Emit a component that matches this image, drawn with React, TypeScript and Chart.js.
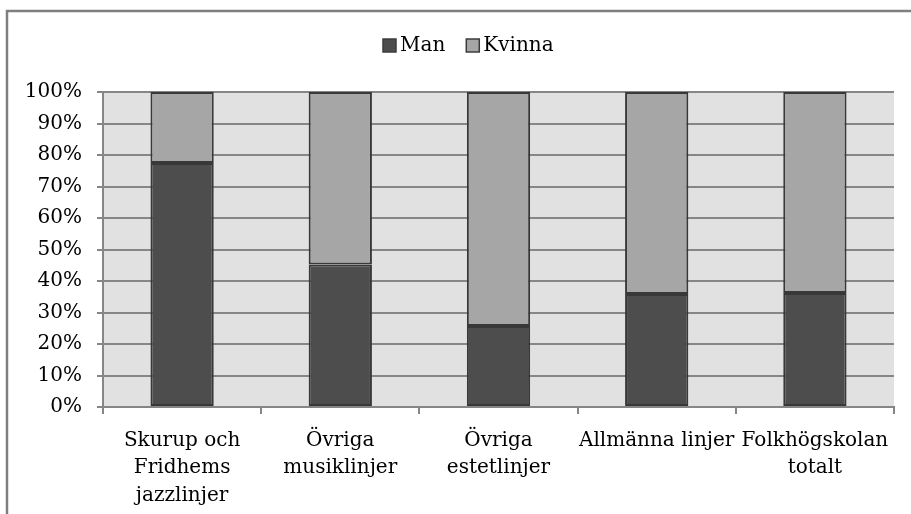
import React, { useEffect, useRef } from "react";
import { Chart, registerables } from "chart.js";

Chart.register(...registerables);

const categories: (string | string[])[] = [
  ["Skurup och", "Fridhems", "jazzlinjer"],
  ["Övriga", "musiklinjer"],
  ["Övriga", "estetlinjer"],
  "Allmänna linjer",
  ["Folkhögskolan", "totalt"],
];
const manValues = [77.5, 45.2, 25.7, 35.9, 36.2];
const kvinnaValues = [22.5, 54.8, 74.3, 64.1, 63.8];
const yTickValues = [0, 10, 20, 30, 40, 50, 60, 70, 80, 90, 100];

const FONT = "'DejaVu Serif', serif";

const framePlugin = {
  id: "frame",
  beforeDraw(chart: any) {
    const { ctx, chartArea } = chart;
    ctx.save();
    ctx.fillStyle = "#ffffff";
    ctx.fillRect(0, 0, chart.width, chart.height);
    ctx.strokeStyle = "#7f7f7f";
    ctx.lineWidth = 2.5;
    ctx.beginPath();
    ctx.moveTo(7, chart.height + 5);
    ctx.lineTo(7, 11);
    ctx.lineTo(chart.width + 5, 11);
    ctx.stroke();
    ctx.fillStyle = "#e1e1e1";
    ctx.fillRect(
      chartArea.left,
      chartArea.top,
      chartArea.right - chartArea.left,
      chartArea.bottom - chartArea.top
    );
    ctx.restore();
  },
  afterDraw(chart: any) {
    const { ctx } = chart;
    ctx.save();
    ctx.font = `20px ${FONT}`;
    ctx.textBaseline = "middle";
    let x = 383;
    chart.data.datasets.forEach((ds: any) => {
      ctx.fillStyle = ds.backgroundColor;
      ctx.fillRect(x, 39, 13, 13);
      ctx.strokeStyle = "#3c3c3c";
      ctx.lineWidth = 1.5;
      ctx.strokeRect(x, 39, 13, 13);
      x += 17;
      ctx.fillStyle = "#000000";
      ctx.fillText(ds.label, x, 46);
      x += ctx.measureText(ds.label).width + 21;
    });
    ctx.restore();
  },
};

export default function App() {
  const ref = useRef<HTMLCanvasElement>(null);
  useEffect(() => {
    if (!ref.current) return;
    const chart = new Chart(ref.current, {
      type: "bar",
      data: {
        labels: categories as any,
        datasets: [
          {
            label: "Man",
            data: manValues,
            backgroundColor: "#4d4d4d",
            borderColor: "#383838",
            borderWidth: 2,
            borderSkipped: false,
            barPercentage: 0.4,
            categoryPercentage: 1,
          },
          {
            label: "Kvinna",
            data: kvinnaValues,
            backgroundColor: "#a6a6a6",
            borderColor: "#383838",
            borderWidth: 2,
            borderSkipped: false,
            barPercentage: 0.4,
            categoryPercentage: 1,
          },
        ],
      },
      options: {
        responsive: false,
        animation: false,
        layout: { padding: { top: 92, right: 17, left: 0, bottom: 0 } },
        plugins: {
          legend: { display: false },
          tooltip: { enabled: false },
        },
        scales: {
          x: {
            stacked: true,
            grid: {
              drawOnChartArea: false,
              drawTicks: true,
              tickLength: 7,
              color: "#868686",
              lineWidth: 2,
            },
            border: { display: true, color: "#868686", width: 2 },
            ticks: {
              color: "#000000",
              font: { family: FONT, size: 20, lineHeight: 1.37 },
              maxRotation: 0,
              minRotation: 0,
              autoSkip: false,
              padding: 13,
            },
            afterFit(scale: any) {
              scale.height = 107;
            },
          },
          y: {
            stacked: true,
            min: 0,
            max: 100,
            afterBuildTicks(scale: any) {
              scale.ticks = yTickValues.map((v) => ({ value: v }));
            },
            grid: {
              color: "#868686",
              lineWidth: 2,
              tickLength: 6,
            },
            border: { display: true, color: "#868686", width: 2 },
            ticks: {
              color: "#000000",
              font: { family: FONT, size: 20 },
              padding: 15,
              callback: (v: any) => `${v}%`,
            },
            afterFit(scale: any) {
              scale.width = 103;
            },
          },
        },
      },
      plugins: [framePlugin],
    });
    return () => chart.destroy();
  }, []);
  return (
    <div style={{ position: "fixed", left: 0, top: 0, width: 911, height: 514 }}>
      <canvas ref={ref} width={911} height={514} style={{ display: "block" }} />
    </div>
  );
}
